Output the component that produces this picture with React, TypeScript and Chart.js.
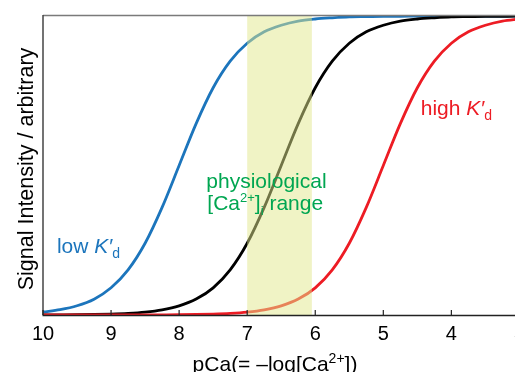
import React, { useEffect, useRef } from "react";
import { Chart, registerables } from "chart.js";
Chart.register(...registerables);

const FONT = '"Liberation Sans", Arial, Helvetica, sans-serif';

// pCa grid read along the x axis (reversed axis: 10 → 3)
const pCa = [10, 9.75, 9.5, 9.25, 9, 8.75, 8.5, 8.25, 8, 7.75, 7.5, 7.25, 7, 6.75, 6.5, 6.25, 6, 5.75, 5.5, 5.25, 5, 4.75, 4.5, 4.25, 4, 3.75, 3.5, 3.25, 3];
// blue curve (low K'd)
const lowKd = [0.01, 0.018, 0.031, 0.053, 0.091, 0.151, 0.24, 0.36, 0.5, 0.64, 0.76, 0.849, 0.909, 0.947, 0.969, 0.983, 0.99, 0.994, 0.997, 0.998, 0.999, 0.999, 1, 1, 1, 1, 1, 1, 1];
// black curve
const midKd = [0.0003, 0.0006, 0.001, 0.0018, 0.0032, 0.0056, 0.0099, 0.0175, 0.0307, 0.0532, 0.0909, 0.151, 0.24, 0.36, 0.5, 0.64, 0.76, 0.849, 0.909, 0.947, 0.969, 0.983, 0.99, 0.994, 0.997, 0.998, 0.999, 0.999, 1];
// red curve (high K'd)
const highKd = [0, 0, 0, 0.0001, 0.0001, 0.0002, 0.0003, 0.0006, 0.001, 0.0018, 0.0032, 0.0056, 0.0099, 0.0175, 0.0307, 0.0532, 0.0909, 0.151, 0.24, 0.36, 0.5, 0.64, 0.76, 0.849, 0.909, 0.947, 0.969, 0.983, 0.99];

const xTicks = [10, 9, 8, 7, 6, 5, 4, 3];
const physRange = [7, 6.05];

const BLUE = "#1c75bc";
const RED = "#ed1c24";
const GREEN = "#00a651";

type Part = { t: string; size: number; italic?: boolean; dy?: number };

function measure(ctx: CanvasRenderingContext2D, parts: Part[]) {
  let w = 0;
  for (const p of parts) {
    ctx.font = `${p.italic ? "italic " : ""}${p.size}px ${FONT}`;
    w += ctx.measureText(p.t).width;
  }
  return w;
}

function drawRich(ctx: CanvasRenderingContext2D, parts: Part[], x: number, y: number, color: string) {
  let cx = x;
  ctx.textAlign = "left";
  ctx.textBaseline = "alphabetic";
  ctx.fillStyle = color;
  for (const p of parts) {
    ctx.font = `${p.italic ? "italic " : ""}${p.size}px ${FONT}`;
    ctx.fillText(p.t, cx, y + (p.dy || 0));
    cx += ctx.measureText(p.t).width;
  }
}

const S = 21;
const lowLabel: Part[] = [
  { t: "low ", size: S },
  { t: "K\u2032", size: S, italic: true },
  { t: "d", size: 14, dy: 5 },
];
const highLabel: Part[] = [
  { t: "high ", size: S },
  { t: "K\u2032", size: S, italic: true },
  { t: "d", size: 14, dy: 5 },
];
const physLine1: Part[] = [{ t: "physiological", size: S }];
const physLine2: Part[] = [
  { t: "[Ca", size: S },
  { t: "2+", size: 13, dy: -8 },
  { t: "]", size: S },
  { t: "i", size: 13, dy: 5 },
  { t: " range", size: S },
];
const xTitle: Part[] = [
  { t: "pCa(= \u2013log[Ca", size: 21 },
  { t: "2+", size: 14, dy: -8 },
  { t: "])", size: 21 },
];

const decorPlugin = {
  id: "decor",
  afterDatasetsDraw(chart: any) {
    const { ctx, chartArea: a, scales } = chart;
    const xs = scales.x;
    const x1 = xs.getPixelForValue(physRange[0]);
    const x2 = xs.getPixelForValue(physRange[1]);
    ctx.save();
    ctx.fillStyle = "rgba(226,232,140,0.5)";
    ctx.fillRect(Math.min(x1, x2), a.top, Math.abs(x2 - x1), a.bottom - a.top);
    ctx.restore();
  },
  afterDraw(chart: any) {
    const { ctx, chartArea: a, scales } = chart;
    const xs = scales.x;
    const ys = scales.y;
    ctx.save();
    // frame
    ctx.lineWidth = 1.5;
    ctx.strokeStyle = "#7a7a7a";
    ctx.beginPath();
    ctx.moveTo(a.left, a.top - 0.5);
    ctx.lineTo(a.right + 10, a.top - 0.5);
    ctx.stroke();
    ctx.strokeStyle = "#444";
    ctx.beginPath();
    ctx.moveTo(a.left, a.top - 1);
    ctx.lineTo(a.left, a.bottom);
    ctx.stroke();
    ctx.strokeStyle = "#222";
    ctx.beginPath();
    ctx.moveTo(a.left - 0.5, a.bottom + 0.5);
    ctx.lineTo(a.right + 10, a.bottom + 0.5);
    ctx.stroke();
    // inward ticks
    ctx.lineWidth = 1.2;
    for (const t of xTicks) {
      const px = xs.getPixelForValue(t);
      ctx.beginPath();
      ctx.moveTo(px, a.bottom);
      ctx.lineTo(px, a.bottom - 5);
      ctx.stroke();
    }
    // annotations
    drawRich(ctx, lowLabel, xs.getPixelForValue(9.795), ys.getPixelForValue(0.207), BLUE);
    drawRich(ctx, highLabel, xs.getPixelForValue(4.45), ys.getPixelForValue(0.669), RED);
    drawRich(ctx, physLine1, xs.getPixelForValue(7.6), ys.getPixelForValue(0.425), GREEN);
    drawRich(ctx, physLine2, xs.getPixelForValue(7.585), ys.getPixelForValue(0.352), GREEN);
    // x title
    const w = measure(ctx, xTitle);
    drawRich(ctx, xTitle, 275 - w / 2, 371, "#000");
    // y title
    ctx.translate(33, 169);
    ctx.rotate(-Math.PI / 2);
    ctx.font = `21.5px ${FONT}`;
    ctx.fillStyle = "#000";
    ctx.textAlign = "center";
    ctx.textBaseline = "alphabetic";
    ctx.fillText("Signal Intensity / arbitrary", 0, 0);
    ctx.restore();
  },
};

export default function App() {
  const ref = useRef<HTMLCanvasElement>(null);
  useEffect(() => {
    if (!ref.current) return;
    const mk = (vals: number[]) => pCa.map((x, i) => ({ x, y: vals[i] }));
    const line = (label: string, vals: number[], color: string) => ({
      label,
      data: mk(vals),
      borderColor: color,
      backgroundColor: color,
      borderWidth: 2.8,
      pointRadius: 0,
      cubicInterpolationMode: "monotone" as const,
      fill: false,
    });
    const chart = new Chart(ref.current, {
      type: "line",
      data: {
        datasets: [
          line("high", highKd, RED),
          line("mid", midKd, "#000"),
          line("low", lowKd, BLUE),
        ],
      },
      options: {
        animation: false,
        responsive: false,
        devicePixelRatio: 1,
        layout: { padding: { left: 0, top: 16, right: 4, bottom: 0 } },
        plugins: { legend: { display: false }, tooltip: { enabled: false } },
        scales: {
          x: {
            type: "linear",
            min: 3,
            max: 10,
            reverse: true,
            grid: { display: false, drawTicks: false },
            border: { display: false },
            ticks: {
              stepSize: 1,
              color: "#000",
              padding: 7,
              font: { family: FONT, size: 20 },
              autoSkip: false,
              maxRotation: 0,
            },
            afterBuildTicks: (s: any) => {
              s.ticks = xTicks.map((v) => ({ value: v }));
            },
            afterFit: (s: any) => {
              s.height = 57;
            },
          },
          y: {
            min: 0,
            max: 1,
            grid: { display: false, drawTicks: false },
            border: { display: false },
            ticks: { display: false },
            afterFit: (s: any) => {
              s.width = 43;
            },
          },
        },
      },
      plugins: [decorPlugin],
    });
    return () => chart.destroy();
  }, []);
  return (
    <div style={{ position: "fixed", left: 0, top: 0, width: 515, height: 372, overflow: "hidden", background: "#fff" }}>
      <canvas ref={ref} width={532} height={372} style={{ width: 532, height: 372, display: "block" }} />
    </div>
  );
}
